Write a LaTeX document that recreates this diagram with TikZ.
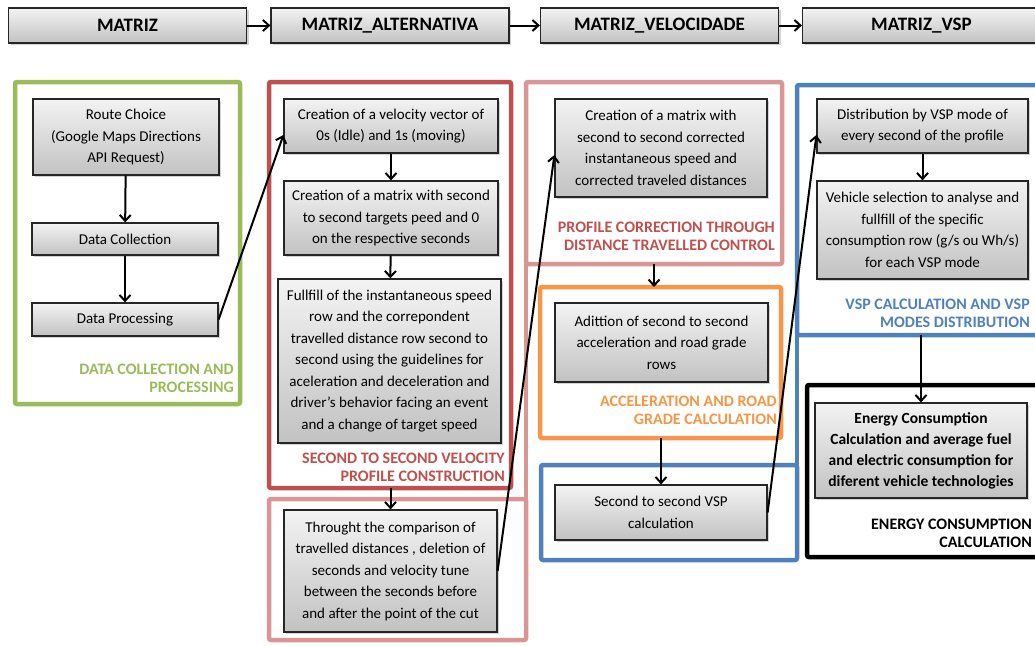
\documentclass[tikz,border=0pt]{standalone}
\usepackage{fontspec}
\setmainfont{Carlito}
\usetikzlibrary{arrows.meta,shadows}
\definecolor{framegreen}{HTML}{9BBB59}
\definecolor{framered}{HTML}{C0504D}
\definecolor{framepink}{HTML}{D99694}
\definecolor{frameorange}{HTML}{F79646}
\definecolor{frameblue}{HTML}{4F81BD}
\definecolor{boxtop}{HTML}{F3F3F3}
\definecolor{boxbottom}{HTML}{C2C2C2}
\tikzstyle{Header}=[draw=black!85, line width=1.2pt, top color=boxtop, bottom color=boxbottom, drop shadow={shadow xshift=2pt, shadow yshift=-2pt, opacity=0.35}, minimum height=35pt, minimum width=238pt, inner sep=0pt, font=\fontsize{19}{21}\selectfont\bfseries]
\tikzstyle{Task}=[draw=black!85, line width=1.2pt, top color=boxtop, bottom color=boxbottom, drop shadow={shadow xshift=2pt, shadow yshift=-2pt, opacity=0.35}, align=center, inner sep=0pt, font=\fontsize{15}{21.5}\selectfont]
\tikzstyle{Frame}=[line width=4.5pt, rounded corners=2pt, inner sep=0pt, outer sep=0pt]
\tikzstyle{Label}=[align=right, anchor=east, inner sep=0pt, font=\fontsize{16}{18}\selectfont\bfseries]
\tikzstyle{arrow}=[line width=2pt, -{Straight Barb[length=6pt, width=11pt]}]
\pgfdeclarelayer{framelayer}
\pgfsetlayers{framelayer, main}

\begin{document}
\begin{tikzpicture}[x=1pt, y=-1pt]
	\useasboundingbox (0, 0) rectangle (1035, 645);
	\begin{pgfonlayer}{framelayer}
		\node [style=Frame, draw=framegreen, minimum width=225pt, minimum height=322pt] (collect_frame) at (127.5, 243) {};
		\node [style=Frame, draw=framered, minimum width=242pt, minimum height=406pt] (profile_frame) at (390, 285) {};
		\node [style=Frame, draw=framepink, minimum width=257pt, minimum height=141pt] (cut_frame) at (397.5, 569.5) {};
		\node [style=Frame, draw=framepink, minimum width=256pt, minimum height=182pt] (correct_frame) at (654, 173) {};
		\draw [style=Frame, draw=framepink] (correct_frame.south west) -- (cut_frame.north east);
		\node [style=Frame, draw=frameorange, minimum width=241pt, minimum height=151pt] (accel_frame) at (660.5, 362.5) {};
		\node [style=Frame, draw=frameblue, minimum width=248pt, minimum height=250pt] (vsp_frame) at (921, 210) {};
		\node [style=Frame, draw=frameblue, minimum width=256pt, minimum height=95pt] (calc_frame) at (669, 512.5) {};
		\draw [style=Frame, draw=frameblue] (vsp_frame.south west) -- (calc_frame.north east);
		\node [style=Frame, draw=black, minimum width=243pt, minimum height=172pt] (energy_frame) at (928.5, 471) {};
	\end{pgfonlayer}

	% matrices
	\node [style=Header] (h_matriz) at (127.5, 25.5) {MATRIZ};
	\node [style=Header] (h_alt) at (390, 25.5) {MATRIZ\_ALTERNATIVA};
	\node [style=Header] (h_vel) at (659.5, 25.5) {MATRIZ\_VELOCIDADE};
	\node [style=Header] (h_vsp) at (921.5, 25.5) {MATRIZ\_VSP};

	% data collection
	\node [style=Task, minimum width=186pt, minimum height=76pt] (g_route) at (126, 137) {Route Choice\\(Google Maps Directions\\API Request)};
	\node [style=Task, minimum width=186pt, minimum height=32pt] (g_coll) at (125, 239) {Data Collection};
	\node [style=Task, minimum width=186pt, minimum height=33pt] (g_proc) at (125, 319.5) {Data Processing};

	% velocity profile
	\node [style=Task, minimum width=214pt, minimum height=54pt] (r_vector) at (391, 126) {Creation of a velocity vector of\\0s (Idle) and 1s (moving)};
	\node [style=Task, minimum width=214pt, minimum height=74pt] (r_matrix) at (391, 218) {Creation of a matrix with second\\to second targets peed and 0\\on the respective seconds};
	\node [style=Task, minimum width=223pt, minimum height=164pt] (r_fill) at (389.5, 361) {Fullfill of the instantaneous speed\\row and the correpondent\\travelled distance row second to\\second using the guidelines for\\aceleration and deceleration and\\driver's behavior facing an event\\and a change of target speed};
	\node [style=Task, minimum width=213pt, minimum height=122pt] (r_cut) at (390.5, 571) {Throught the comparison of\\travelled distances , deletion of\\seconds and velocity tune\\between the seconds before\\and after the point of the cut};

	% corrected profile
	\node [style=Task, minimum width=212pt, minimum height=98pt] (v_matrix) at (661, 148) {Creation of a matrix with\\second to second corrected\\instantaneous speed and\\corrected traveled distances};
	\node [style=Task, minimum width=213pt, minimum height=79pt] (v_accel) at (661.5, 342.5) {Adittion of second to second\\acceleration and road grade\\rows};
	\node [style=Task, minimum width=212pt, minimum height=55pt] (v_vsp) at (661, 512.5) {Second to second VSP\\calculation};

	% vsp modes
	\node [style=Task, minimum width=211pt, minimum height=54pt] (s_mode) at (922.5, 126) {Distribution by VSP mode of\\every second of the profile};
	\node [style=Task, minimum width=211pt, minimum height=98pt] (s_vehicle) at (922.5, 230) {Vehicle selection to analyse and\\fullfill of the specific\\consumption row (g/s ou Wh/s)\\for each VSP mode};
	\node [style=Task, minimum width=212pt, minimum height=95pt, font=\fontsize{15.5}{21}\selectfont\bfseries] (e_calc) at (921, 450.5) {Energy Consumption\\Calculation and average fuel\\and electric consumption for\\diferent vehicle technologies};

	% labels
	\node [style=Label, text=framegreen] (collect_label) at (234, 378) {DATA COLLECTION AND\\PROCESSING};
	\node [style=Label, text=framered] (profile_label) at (505, 467) {SECOND TO SECOND VELOCITY\\PROFILE CONSTRUCTION};
	\node [style=Label, text=framered] (correct_label) at (775, 236) {PROFILE CORRECTION THROUGH\\DISTANCE TRAVELLED CONTROL};
	\node [style=Label, text=frameorange] (accel_label) at (777, 410) {ACCELERATION AND ROAD\\GRADE CALCULATION};
	\node [style=Label, text=frameblue] (vsp_label) at (1030, 313) {VSP CALCULATION AND VSP\\MODES DISTRIBUTION};
	\node [style=Label, text=black] (energy_label) at (1032, 533) {ENERGY CONSUMPTION\\CALCULATION};

	% edges
	\draw [style=arrow] (h_matriz) to (h_alt);
	\draw [style=arrow] (h_alt) to (h_vel);
	\draw [style=arrow] (h_vel) to (h_vsp);
	\draw [style=arrow] (g_route) to (g_coll);
	\draw [style=arrow] (g_coll) to (g_proc);
	\draw [style=arrow] (g_proc.east) to ([yshift=-9pt]r_vector.west);
	\draw [style=arrow] (r_vector) to (r_matrix);
	\draw [style=arrow] (r_matrix) to (r_fill);
	\draw [style=arrow] (profile_frame.south -| r_cut.north) to (r_cut.north);
	\draw [style=arrow] (r_cut.east) to ([yshift=-7pt]v_matrix.west);
	\draw [style=arrow] (correct_frame.south) to (correct_frame.south |- accel_frame.north);
	\draw [style=arrow] (accel_frame.south -| v_vsp.north) to (v_vsp.north);
	\draw [style=arrow] (v_vsp.east) to ([yshift=-9pt]s_mode.west);
	\draw [style=arrow] (s_mode) to (s_vehicle);
	\draw [style=arrow] (vsp_frame.south -| e_calc.north) to (e_calc.north);
\end{tikzpicture}
\end{document}
